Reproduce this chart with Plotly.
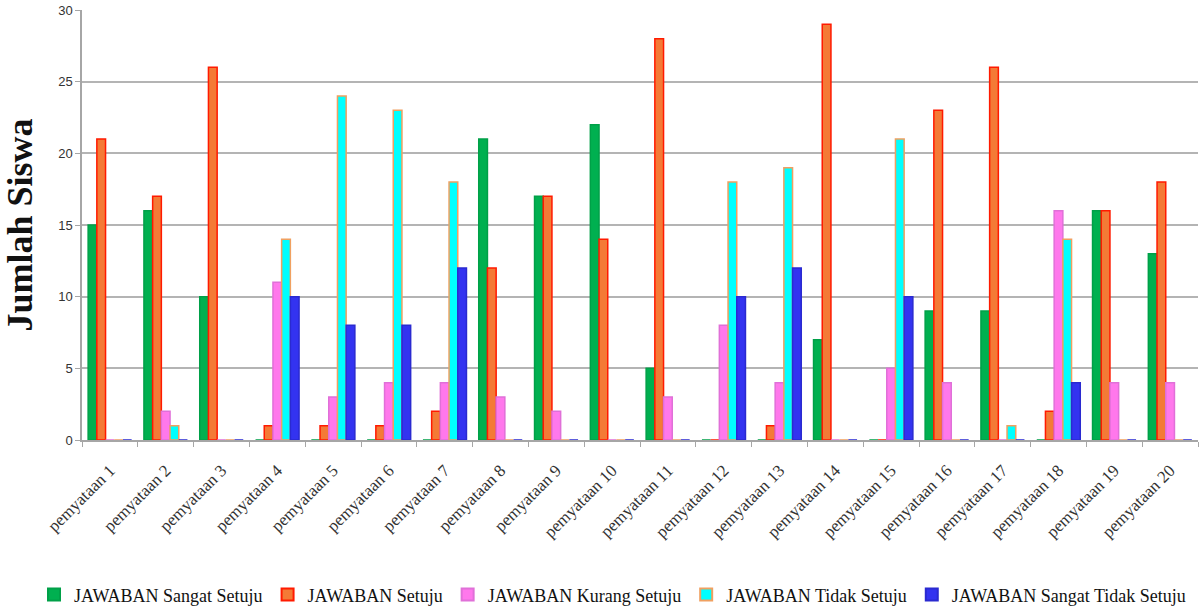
import plotly.graph_objects as go

categories = [f"pemyataan {i}" for i in range(1, 21)]

sangat_setuju = [15, 16, 10, 0, 0, 0, 0, 21, 17, 22, 5, 0, 0, 7, 0, 9, 9, 0, 16, 13]
setuju = [21, 17, 26, 1, 1, 1, 2, 12, 17, 14, 28, 0, 1, 29, 0, 23, 26, 2, 16, 18]
kurang_setuju = [0, 2, 0, 11, 3, 4, 4, 3, 2, 0, 3, 8, 4, 0, 5, 4, 0, 16, 4, 4]
tidak_setuju = [0, 1, 0, 14, 24, 23, 18, 0, 0, 0, 0, 18, 19, 0, 21, 0, 1, 14, 0, 0]
sangat_tidak_setuju = [0, 0, 0, 10, 8, 8, 12, 0, 0, 0, 0, 10, 12, 0, 10, 0, 0, 4, 0, 0]

series = [
    ("JAWABAN Sangat Setuju", sangat_setuju, "#00B050", "#00A048"),
    ("JAWABAN Setuju", setuju, "#F47A36", "#FF1A00"),
    ("JAWABAN Kurang Setuju", kurang_setuju, "#FF78EC", "#E070D8"),
    ("JAWABAN Tidak Setuju", tidak_setuju, "#00FFFF", "#F0A060"),
    ("JAWABAN Sangat Tidak Setuju", sangat_tidak_setuju, "#3333F0", "#2A2AD0"),
]

fig = go.Figure()
for name, vals, fill, edge in series:
    fig.add_trace(go.Bar(
        x=categories, y=vals, name=name,
        marker=dict(color=fill, line=dict(color=edge, width=1.5)),
    ))

fig.update_layout(
    width=1204, height=607,
    margin=dict(l=82, r=6, t=10, b=167, autoexpand=False),
    plot_bgcolor="white", paper_bgcolor="white",
    barmode="group", bargap=0.22, bargroupgap=0,
    font=dict(family="Liberation Serif", color="#222222"),
    showlegend=True,
    legend=dict(
        orientation="h", x=-0.043, xanchor="left", y=-0.36, yanchor="middle",
        font=dict(family="Liberation Serif", size=18, color="#111111"),
        itemsizing="constant", traceorder="normal", itemwidth=30,
    ),
    xaxis=dict(
        showgrid=False, showline=True, linecolor="#A6A6A6", linewidth=1.5,
        ticks="outside", tickson="boundaries", ticklen=5, tickcolor="#A6A6A6",
        ticklabelstandoff=12,
        tickangle=-45, tickfont=dict(family="Liberation Serif", size=17, color="#333333"),
    ),
    yaxis=dict(
        range=[0, 30], dtick=5, showgrid=True, gridcolor="#B4B4B4", gridwidth=1.5,
        showline=True, linecolor="#A6A6A6", linewidth=1.5,
        ticks="outside", ticklen=5, tickcolor="#A6A6A6",
        tickfont=dict(family="Liberation Sans", size=13, color="#333333"),
        zeroline=False,
        title=dict(text="<b>Jumlah Siswa</b>", standoff=16,
                   font=dict(family="Liberation Serif", size=36, color="#111111")),
    ),
)

fig.write_html("out.html")
